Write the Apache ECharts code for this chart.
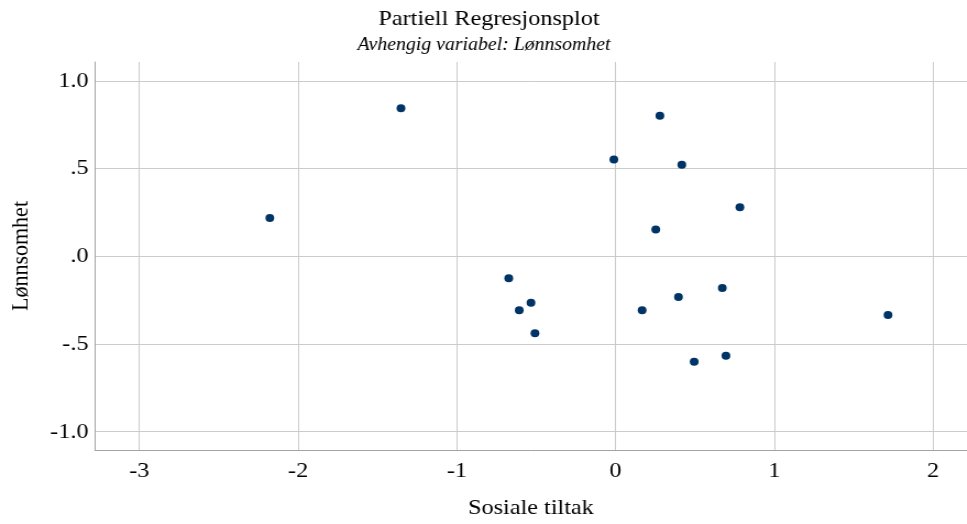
<!DOCTYPE html>
<html>
<head>
<meta charset="utf-8">
<script src="https://cdn.jsdelivr.net/npm/echarts@6/dist/echarts.min.js"></script>
<style>
  html, body { margin: 0; padding: 0; background: #ffffff; overflow: hidden; }
  /* plot is laid out narrower and widened horizontally, as in the exported SPSS graphic */
  #chart { width: 879px; height: 524px; transform: scaleX(1.1); transform-origin: 0 0; }
</style>
</head>
<body>
<div id="chart"></div>
<script>
// Partial regression plot: residuals of Sosiale tiltak vs residuals of Lønnsomhet
const titleText = 'Partiell Regresjonsplot';
const subtitleText = 'Avhengig variabel: Lønnsomhet';
const xName = 'Sosiale tiltak';
const yName = 'Lønnsomhet';

const xTicks = [-3, -2, -1, 0, 1, 2];
const yTicks = [-1, -0.5, 0, 0.5, 1];

const sosialeTiltak = [-2.178, -1.352, -0.673, -0.607, -0.533, -0.508, -0.011, 0.167, 0.253,
                       0.279, 0.396, 0.417, 0.495, 0.672, 0.695, 0.783, 1.716];
const lonnsomhet    = [0.218, 0.844, -0.126, -0.308, -0.265, -0.439, 0.552, -0.307, 0.153,
                       0.801, -0.232, 0.521, -0.601, -0.181, -0.567, 0.280, -0.335];

const points = sosialeTiltak.map((x, i) => [x, lonnsomhet[i]]);

const serif = '"Liberation Serif", "Times New Roman", serif';
const gridColor = '#cbcbcb';
const axisColor = '#a3a3a3';

function spssDecimal(v) {
  const s = Math.abs(v).toFixed(1).replace(/^0/, '');
  return (v < 0 ? '-' : '') + s;
}

const chart = echarts.init(document.getElementById('chart'), null, { renderer: 'canvas' });

chart.setOption({
  backgroundColor: '#ffffff',
  animation: false,
  graphic: [
    {
      type: 'text', x: 444.5, y: 8,
      style: { text: titleText, font: '22px ' + serif, fill: '#000', textAlign: 'center', textVerticalAlign: 'top' }
    },
    {
      type: 'text', x: 440, y: 36,
      style: { text: subtitleText, font: 'italic 18px ' + serif, fill: '#000', textAlign: 'center', textVerticalAlign: 'top' }
    }
  ],
  grid: { left: 86.4, right: 0, top: 62, bottom: 74, containLabel: false },
  xAxis: {
    type: 'value',
    min: -3.279, max: 2.213,
    name: xName, nameLocation: 'middle', nameGap: 47,
    nameTextStyle: { fontFamily: serif, fontSize: 22, color: '#000' },
    axisLine: { show: true, onZero: false, lineStyle: { color: axisColor, width: 1 } },
    axisTick: { show: false, customValues: xTicks },
    axisLabel: { customValues: xTicks, fontFamily: serif, fontSize: 22, color: '#000', margin: 10,
                 formatter: v => String(v) },
    splitLine: { show: true, lineStyle: { color: gridColor, width: 1 } }
  },
  yAxis: {
    type: 'value',
    min: -1.104, max: 1.107,
    name: yName, nameLocation: 'middle', nameGap: 56, nameRotate: 90,
    nameTextStyle: { fontFamily: serif, fontSize: 22, color: '#000' },
    axisLine: { show: true, onZero: false, lineStyle: { color: axisColor, width: 1 } },
    axisTick: { show: false, customValues: yTicks },
    axisLabel: { customValues: yTicks, fontFamily: serif, fontSize: 22, color: '#000', margin: 6,
                 formatter: spssDecimal },
    splitLine: { show: true, lineStyle: { color: gridColor, width: 1 } }
  },
  series: [{
    type: 'scatter',
    data: points,
    symbol: 'circle',
    symbolSize: 8,
    itemStyle: { color: '#003366', opacity: 1 },
    emphasis: { disabled: true }
  }]
});
</script>
</body>
</html>
